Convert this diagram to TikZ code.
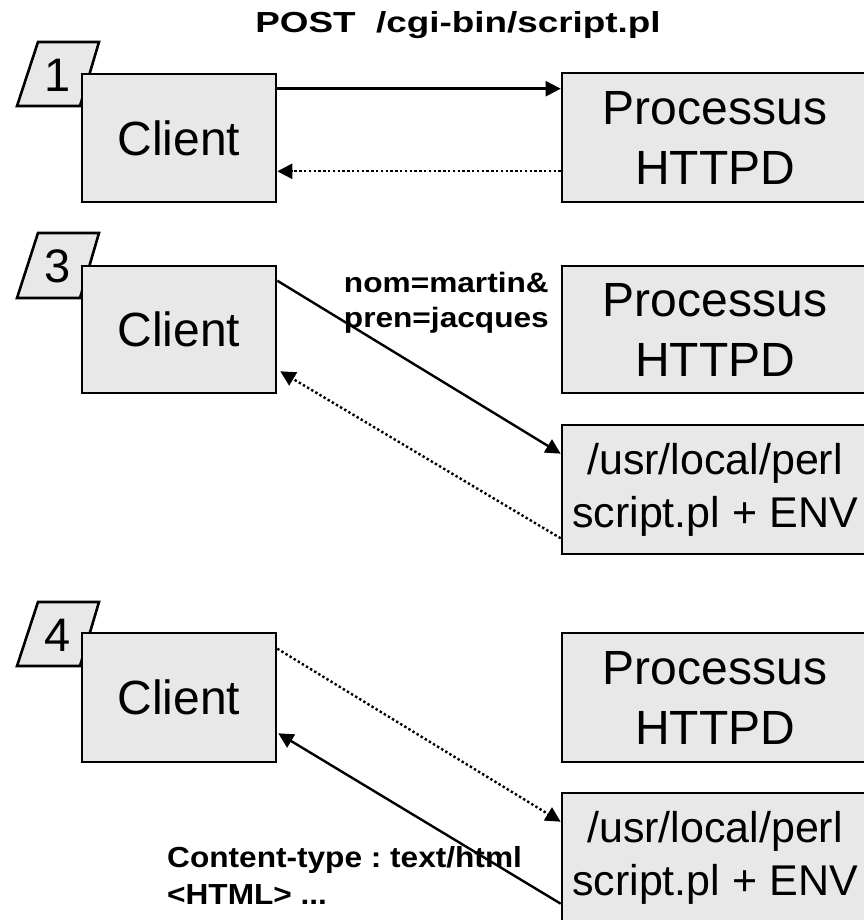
\documentclass[tikz,border=0pt]{standalone}
\usepackage{fontspec}
\setmainfont{Liberation Sans}
\newfontfamily\titlefont[FakeStretch=1.27]{Liberation Sans}
\newfontfamily\nomfont[FakeStretch=1.13]{Liberation Sans}
\newfontfamily\ctfont[FakeStretch=1.09]{Liberation Sans}
\usetikzlibrary{arrows.meta,calc}
\definecolor{boxgray}{RGB}{232,232,232}
\frenchspacing
\begin{document}
\begin{tikzpicture}[x=1pt,y=-1pt,
  box/.style={draw=black, line width=2.6pt, fill=boxgray, inner sep=0pt, align=center},
  clientbox/.style={box, minimum width=194pt, minimum height=128pt, font=\fontsize{48}{60}\selectfont},
  procbox/.style={box, minimum width=306pt, minimum height=129pt, font=\fontsize{48}{60}\selectfont},
  perlbox/.style={box, minimum width=306pt, minimum height=129pt, font=\fontsize{43}{53}\selectfont},
  tag/.style={draw=black, line width=2.6pt, fill=boxgray},
  tagnum/.style={inner sep=0pt, font=\fontsize{47}{56}\selectfont},
  sarrow/.style={line width=2.4pt, -{Triangle[length=15pt,width=15pt]}},
  darrow/.style={line width=2.4pt, dash pattern=on 2.4pt off 2.4pt, -{Triangle[length=15pt,width=15pt]}},
  lbl/.style={inner sep=0pt}
]
\useasboundingbox (0,0) rectangle (863,920);

% title
\node[lbl, anchor=base, font=\titlefont\bfseries\fontsize{29}{34}\selectfont] (title) at (458,33) {POST\ \ /cgi-bin/script.pl};

% ---------- scene 1 ----------
\draw[tag] (38,42) -- (99,42) -- (80,106) -- (17,106) -- cycle;
\node[tagnum] (n1) at (58,75) {1};
\node[clientbox] (c1) at (179,138) {Client};
\node[procbox] (p1) at (715,137.5) {Processus\\HTTPD};
\coordinate (a1) at ($(c1.north east)+(0,16)$);
\coordinate (b1) at ($(p1.south west)+(0,-32)$);
\draw[sarrow] (a1) -- (a1 -| p1.west);
\draw[darrow] (b1) -- (b1 -| c1.east);

% ---------- scene 3 ----------
\draw[tag] (38,233) -- (99,233) -- (80,298) -- (17,298) -- cycle;
\node[tagnum] (n3) at (58,266.5) {3};
\node[clientbox, minimum height=127pt] (c2) at (179,329.5) {Client};
\node[procbox, minimum height=127pt] (p2) at (715,329.5) {Processus\\HTTPD};
\node[perlbox] (s1) at (715,489.5) {/usr/local/perl\\script.pl + ENV};
\draw[sarrow] ($(c2.north east)+(0,16)$) -- ($(s1.north west)+(0,30)$);
\draw[darrow] ($(s1.south west)+(0,-17)$) -- ($(c2.south east)+(3,-23)$);
\node[lbl, anchor=north east, align=right, font=\nomfont\bfseries\fontsize{28}{35}\selectfont] (q1) at (549,272) {nom=martin\&\\pren=jacques};

% ---------- scene 4 ----------
\draw[tag] (38,602) -- (99,602) -- (80,666) -- (17,666) -- cycle;
\node[tagnum] (n4) at (58,635) {4};
\node[clientbox, minimum height=129pt] (c3) at (179,697.5) {Client};
\node[procbox] (p3) at (715,697.5) {Processus\\HTTPD};
\node[perlbox] (s2) at (715,857.5) {/usr/local/perl\\script.pl + ENV};
\draw[darrow] ($(c3.north east)+(0,17)$) -- ($(s2.north west)+(0,30)$);
\draw[sarrow] ($(s2.north west)+(0,112)$) -- ($(c3.south east)+(1,-30)$);
\node[lbl, anchor=north west, align=left, font=\ctfont\bfseries\fontsize{29}{37}\selectfont] (q2) at (167,846) {Content-type : text/html\\<HTML> ...};
\end{tikzpicture}
\end{document}
